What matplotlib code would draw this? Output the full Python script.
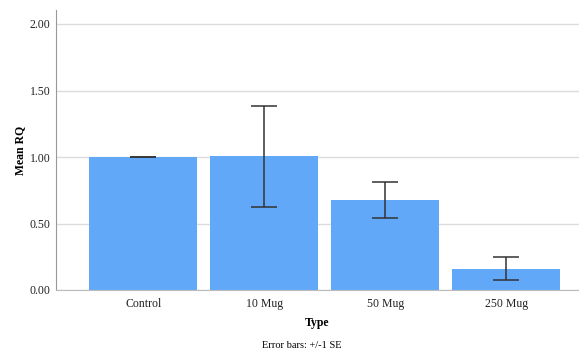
import matplotlib.pyplot as plt
import numpy as np

types = ['Control', '10 Mug', '50 Mug', '250 Mug']
mean_rq = [1.00, 1.005, 0.68, 0.16]
se = [0.003, 0.38, 0.135, 0.085]

plt.rcParams['font.family'] = ['Liberation Serif', 'DejaVu Serif']

fig = plt.figure(figsize=(5.79, 3.51), dpi=100)
ax = fig.add_axes([56/579, 1 - 290/351, (579-56)/579, (290-10)/351])

x = np.arange(len(types))
ax.bar(x, mean_rq, width=0.89, color='#62a8f8', zorder=2)
ax.errorbar(x, mean_rq, yerr=se, fmt='none', ecolor='#333333', elinewidth=1.1,
            capsize=9.5, capthick=1.1, zorder=3)

ax.set_xlim(-0.72, 3.6)
ax.set_ylim(0, 2.00 * (280/266))
ax.set_yticks([0, 0.5, 1.0, 1.5, 2.0])
ax.set_yticklabels(['0.00', '0.50', '1.00', '1.50', '2.00'])
ax.set_xticks(x)
ax.set_xticklabels(types)
ax.tick_params(length=0, labelsize=8.5, colors='#222222', pad=4)
ax.tick_params(axis='x', pad=6)
ax.grid(axis='y', color='#dcdcdc', linewidth=1, zorder=0)
for s in ['top', 'right']:
    ax.spines[s].set_visible(False)
ax.spines['left'].set_color('#999999')
ax.spines['bottom'].set_color('#bbbbbb')

ax.set_ylabel('Mean RQ', fontsize=8.5, fontweight='bold', va='center')
ax.yaxis.set_label_coords(-36/523, 0.5)
ax.set_xlabel('Type', fontsize=8.5, fontweight='bold', va='center')
ax.xaxis.set_label_coords(0.5 - 0.5*(302-302)/523, -33/280)
fig.text(302/579, 1 - 345/351, 'Error bars: +/-1 SE', fontsize=7.5, ha='center', va='center')

fig.savefig('out.png', dpi=100)
